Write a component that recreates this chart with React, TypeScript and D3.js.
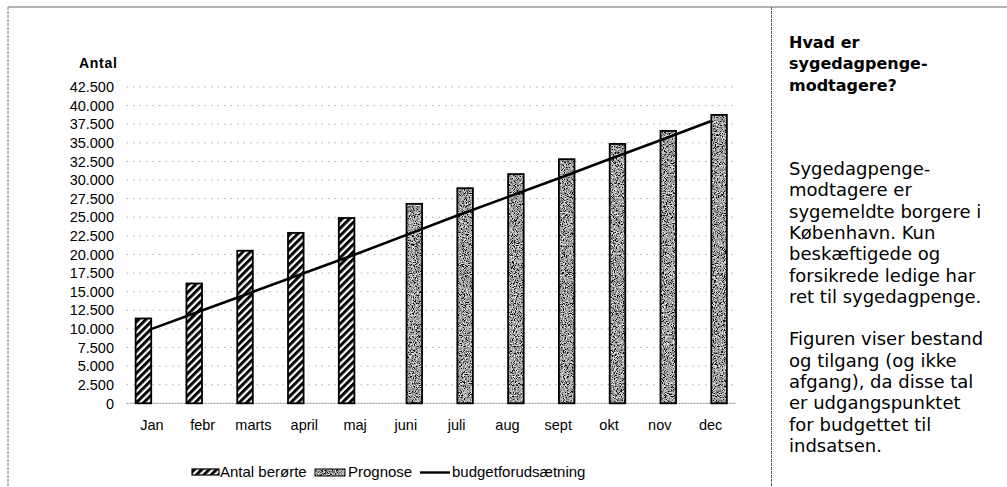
import React from "react";
import * as d3 from "d3";

const months = ["Jan", "febr", "marts", "april", "maj", "juni", "juli", "aug", "sept", "okt", "nov", "dec"];
const antalBerorte: (number | null)[] = [11400, 16100, 20500, 22900, 24900, null, null, null, null, null, null, null];
const prognose: (number | null)[] = [null, null, null, null, null, 26800, 28900, 30800, 32800, 34850, 36600, 38750];
const budget = [10000, 12500, 15000, 17500, 20000, 22600, 25200, 27700, 30200, 32800, 35300, 37900];
const yTicks = [0, 2500, 5000, 7500, 10000, 12500, 15000, 17500, 20000, 22500, 25000, 27500, 30000, 32500, 35000, 37500, 40000, 42500];
const seriesNames = ["Antal berørte", "Prognose"];

const titleLines = ["Hvad er", "sygedagpenge-", "modtagere?"];
const bodyLines = [
  "Sygedagpenge-",
  "modtagere er",
  "sygemeldte borgere i",
  "København. Kun",
  "beskæftigede og",
  "forsikrede ledige har",
  "ret til sygedagpenge.",
  "",
  "Figuren viser bestand",
  "og tilgang (og ikke",
  "afgang), da disse tal",
  "er udgangspunktet",
  "for budgettet til",
  "indsatsen.",
];

const W = 1007;
const H = 487;
const plot = { left: 126.5, right: 736, top: 87, bottom: 403.3 };

const loc = d3.formatLocale({ decimal: ",", thousands: ".", grouping: [3], currency: ["", ""] });
const fmt = loc.format(",d");

export default function App() {
  const x = d3.scaleBand<string>().domain(months).range([plot.left, plot.right]).padding(0);
  const bw = x.bandwidth();
  const xs = d3.scaleBand<string>().domain(seriesNames).range([bw * 0.18, bw * 0.82]).paddingInner(0.08);
  const y = d3.scaleLinear().domain([0, 42500]).range([plot.bottom, plot.top]);
  const line = d3
    .line<number>()
    .x((_, i) => (x(months[i]) as number) + bw / 2)
    .y((d) => y(d));

  const axisFont = "'Liberation Sans', Arial, sans-serif";
  const textFont = "'DejaVu Sans', Verdana, sans-serif";

  return (
    <svg width={W} height={H} style={{ position: "absolute", left: 0, top: 0, background: "#fff" }}>
      <defs>
        <pattern id="hatch" patternUnits="userSpaceOnUse" width="5.2" height="5.2" patternTransform="rotate(45)">
          <rect x="0" y="0" width="5.2" height="5.2" fill="#fff" />
          <rect x="0" y="0" width="3" height="5.2" fill="#000" />
        </pattern>
        <filter id="speckle" x="0" y="0" width="100%" height="100%">
          <feTurbulence type="fractalNoise" baseFrequency="1.1" numOctaves="2" seed="4" result="n" />
          <feColorMatrix
            in="n"
            type="matrix"
            values="1.3 1.3 1.3 0 -1.6  1.3 1.3 1.3 0 -1.6  1.3 1.3 1.3 0 -1.6  0 0 0 0 1"
            result="g"
          />
          <feComposite in="g" in2="SourceGraphic" operator="in" />
        </filter>
      </defs>

      {/* frame */}
      <line x1={8} x2={W} y1={7} y2={7} stroke="#666" strokeWidth={1} />
      <line x1={8} x2={8} y1={7} y2={H} stroke="#777" strokeWidth={1} strokeDasharray="3 1" />
      <line x1={771.5} x2={771.5} y1={7} y2={H} stroke="#555" strokeWidth={1} strokeDasharray="3 1" />

      {/* gridlines */}
      {yTicks.map((t) => (
        <line
          key={"g" + t}
          x1={plot.left}
          x2={plot.right}
          y1={y(t)}
          y2={y(t)}
          stroke={t === 0 ? "#888" : "#b0b0b0"}
          strokeWidth={1}
          strokeDasharray={t === 0 ? "2 1" : "1.5 5"}
        />
      ))}

      {/* y tick labels */}
      {yTicks.map((t) => (
        <text
          key={"t" + t}
          x={114}
          y={y(t)}
          dy="0.36em"
          textAnchor="end"
          fontFamily={axisFont}
          fontSize={14.5}
          fill="#000"
        >
          {fmt(t)}
        </text>
      ))}
      <text x={79} y={68} fontFamily={axisFont} fontSize={14} fontWeight="bold" letterSpacing={0.7}>
        Antal
      </text>

      {/* bars */}
      {months.map((m, i) => {
        const v = antalBerorte[i];
        if (v == null) return null;
        const bx = (x(m) as number) + (xs(seriesNames[0]) as number);
        return (
          <rect
            key={"a" + m}
            x={bx}
            y={y(v)}
            width={xs.bandwidth()}
            height={y(0) - y(v)}
            fill="url(#hatch)"
            stroke="#000"
            strokeWidth={1.8}
          />
        );
      })}
      {months.map((m, i) => {
        const v = prognose[i];
        if (v == null) return null;
        const bx = (x(m) as number) + (xs(seriesNames[1]) as number);
        return (
          <g key={"p" + m}>
            <rect x={bx} y={y(v)} width={xs.bandwidth()} height={y(0) - y(v)} fill="#999" filter="url(#speckle)" />
            <rect x={bx} y={y(v)} width={xs.bandwidth()} height={y(0) - y(v)} fill="none" stroke="#000" strokeWidth={1.8} />
          </g>
        );
      })}

      {/* budget line */}
      <path d={line(budget) as string} fill="none" stroke="#000" strokeWidth={2.6} />

      {/* x labels */}
      {months.map((m) => (
        <text
          key={"x" + m}
          x={(x(m) as number) + bw / 2}
          y={430}
          textAnchor="middle"
          fontFamily={axisFont}
          fontSize={14.5}
        >
          {m}
        </text>
      ))}

      {/* legend */}
      <rect x={192} y={469} width={27} height={6} fill="url(#hatch)" stroke="#000" strokeWidth={1.2} />
      <text x={220} y={477} fontFamily={axisFont} fontSize={15}>
        {seriesNames[0]}
      </text>
      <rect x={315} y={469} width={30} height={7} fill="#999" filter="url(#speckle)" />
      <rect x={315} y={469} width={30} height={7} fill="none" stroke="#000" strokeWidth={1} />
      <text x={348} y={477} fontFamily={axisFont} fontSize={15}>
        {seriesNames[1]}
      </text>
      <line x1={420} x2={450} y1={472.5} y2={472.5} stroke="#000" strokeWidth={2.4} />
      <text x={452} y={477} fontFamily={axisFont} fontSize={15}>
        budgetforudsætning
      </text>

      {/* right text panel */}
      {titleLines.map((l, i) => (
        <text key={"tl" + i} x={789} y={48 + i * 21.3} fontFamily={textFont} fontSize={16} fontWeight="bold">
          {l}
        </text>
      ))}
      {bodyLines.map((l, i) =>
        l ? (
          <text key={"bl" + i} x={789} y={175 + i * 21.3} fontFamily={textFont} fontSize={18}>
            {l}
          </text>
        ) : null
      )}
    </svg>
  );
}
